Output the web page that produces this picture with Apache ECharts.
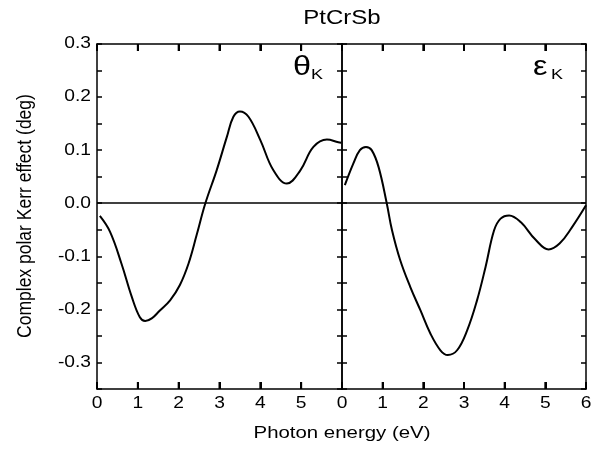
<!DOCTYPE html>
<html>
<head>
<meta charset="utf-8">
<script src="https://cdn.jsdelivr.net/npm/echarts@6/dist/echarts.min.js"></script>
<style>html,body{margin:0;padding:0;background:#fff}#c{width:603px;height:450px}</style>
</head>
<body>
<div id="c"></div>
<script>
const chartTitle = "PtCrSb";
const xAxisTitle = "Photon energy (eV)";
const yAxisTitle = "Complex polar Kerr effect (deg)";
const xTicks = [0, 1, 2, 3, 4, 5, 6];
const yTicks = [-0.3, -0.2, -0.1, 0.0, 0.1, 0.2, 0.3];

const thetaX = [0.07, 0.32, 0.60, 0.85, 1.05, 1.18, 1.34, 1.54, 1.79, 2.03, 2.24, 2.44, 2.65, 2.93, 3.18, 3.34, 3.50, 3.71, 4.00, 4.32, 4.65, 4.98, 5.30, 5.63, 5.91, 5.98];
const thetaY = [-0.024, -0.054, -0.114, -0.176, -0.215, -0.222, -0.217, -0.202, -0.183, -0.154, -0.114, -0.060, -0.001, 0.062, 0.125, 0.163, 0.173, 0.163, 0.119, 0.062, 0.037, 0.062, 0.106, 0.120, 0.115, 0.114];

const epsX = [0.07, 0.28, 0.44, 0.59, 0.73, 0.90, 1.10, 1.23, 1.43, 1.68, 1.93, 2.17, 2.42, 2.60, 2.83, 3.08, 3.32, 3.53, 3.74, 3.90, 4.11, 4.40, 4.75, 5.08, 5.35, 5.65, 6.00];
const epsY = [0.034, 0.075, 0.100, 0.106, 0.100, 0.068, 0.000, -0.051, -0.107, -0.158, -0.202, -0.245, -0.277, -0.286, -0.277, -0.239, -0.183, -0.120, -0.051, -0.029, -0.023, -0.036, -0.068, -0.087, -0.076, -0.046, -0.004];

const FONT = "Liberation Sans, Arial, sans-serif";
const SX = 1.2;
const Y_MIN = -0.35, Y_MAX = 0.3;

function xAx(grid, pos) {
  return {
    type: 'value', gridIndex: grid, position: pos, min: xTicks[0], max: xTicks[xTicks.length - 1], interval: 1,
    axisLine: { show: true, onZero: false, lineStyle: { color: '#000', width: 1.5 } },
    axisTick: { show: true, inside: true, length: 7, lineStyle: { color: '#000', width: 2 } },
    splitLine: { show: false },
    axisLabel: { show: true, color: 'rgba(0,0,0,0)' }
  };
}
function yAx(grid, pos) {
  return {
    type: 'value', gridIndex: grid, position: pos, min: Y_MIN, max: Y_MAX, interval: 0.05,
    axisLine: { show: true, onZero: false, lineStyle: { color: '#000', width: 1.5 } },
    axisTick: { show: true, inside: true, length: 5, lineStyle: { color: '#000', width: 1.5 } },
    splitLine: { show: false },
    axisLabel: { show: false }
  };
}
function zeroLine() {
  return {
    silent: true, symbol: 'none', label: { show: false },
    lineStyle: { color: '#000', width: 1.5, type: 'solid' },
    data: [{ yAxis: 0 }]
  };
}

const chart = echarts.init(document.getElementById('c'));
chart.setOption({
  animation: false,
  backgroundColor: '#fff',
  grid: [
    { left: 97, width: 245, top: 44, height: 345 },
    { left: 342, width: 244, top: 44, height: 345 }
  ],
  xAxis: [xAx(0, 'bottom'), xAx(0, 'top'), xAx(1, 'bottom'), xAx(1, 'top')],
  yAxis: [yAx(0, 'left'), yAx(0, 'right'), yAx(1, 'left'), yAx(1, 'right')],
  series: [
    {
      type: 'line', xAxisIndex: 0, yAxisIndex: 0, smooth: 0.4, showSymbol: false,
      lineStyle: { color: '#000', width: 2 },
      data: thetaX.map((x, i) => [x, thetaY[i]]), markLine: zeroLine()
    },
    {
      type: 'line', xAxisIndex: 2, yAxisIndex: 2, smooth: 0.4, showSymbol: false,
      lineStyle: { color: '#000', width: 2 },
      data: epsX.map((x, i) => [x, epsY[i]]), markLine: zeroLine()
    }
  ]
});

function txt(text, x, y, size, align, extra) {
  return Object.assign({
    type: 'text', x: x, y: y, scaleX: SX, silent: true, z: 10,
    style: { text: text, font: size + 'px ' + FONT, fill: '#000', textAlign: align, textVerticalAlign: 'middle' }
  }, extra || {});
}
function tickLine(x, y1, y2) {
  return { type: 'line', silent: true, z: 10, shape: { x1: x, y1: y1, x2: x, y2: y2 }, style: { stroke: '#000', lineWidth: 2 } };
}
const g = [];
const panels = [{ xi: 0, yi: 0, skipLast: true }, { xi: 2, yi: 2, skipLast: false }];
panels.forEach(pn => {
  xTicks.forEach(v => {
    const b = chart.convertToPixel({ xAxisIndex: pn.xi, yAxisIndex: pn.yi }, [v, Y_MIN]);
    const t = chart.convertToPixel({ xAxisIndex: pn.xi, yAxisIndex: pn.yi }, [v, Y_MAX]);
    if (v !== xTicks[0] && v !== xTicks[xTicks.length - 1]) {
      g.push(tickLine(b[0], b[1], b[1] - 7));
      g.push(tickLine(t[0], t[1], t[1] + 7));
    }
    if (!(pn.skipLast && v === xTicks[xTicks.length - 1])) {
      g.push(txt(String(v), b[0], b[1] + 15, 16, 'center'));
    }
  });
});
yTicks.forEach(v => {
  const p = chart.convertToPixel({ xAxisIndex: 0, yAxisIndex: 0 }, [0, v]);
  g.push(txt(v.toFixed(1), p[0] - 6, p[1], 16, 'right'));
});
g.push(txt(chartTitle, 342, 18, 20, 'center'));
g.push(txt(xAxisTitle, 342, 433, 17, 'center'));
g.push({
  type: 'text', x: 25, y: 216, rotation: Math.PI / 2, scaleY: SX, silent: true,
  style: { text: yAxisTitle, font: '17.5px ' + FONT, fill: '#000', textAlign: 'center', textVerticalAlign: 'middle' }
});
g.push(txt('θ', 293, 68, 27, 'left'));
g.push(txt('K', 311, 75, 15, 'left'));
g.push(txt('ε', 533, 68, 27, 'left'));
g.push(txt('K', 551, 75, 15, 'left'));
chart.setOption({ graphic: g });
</script>
</body>
</html>
